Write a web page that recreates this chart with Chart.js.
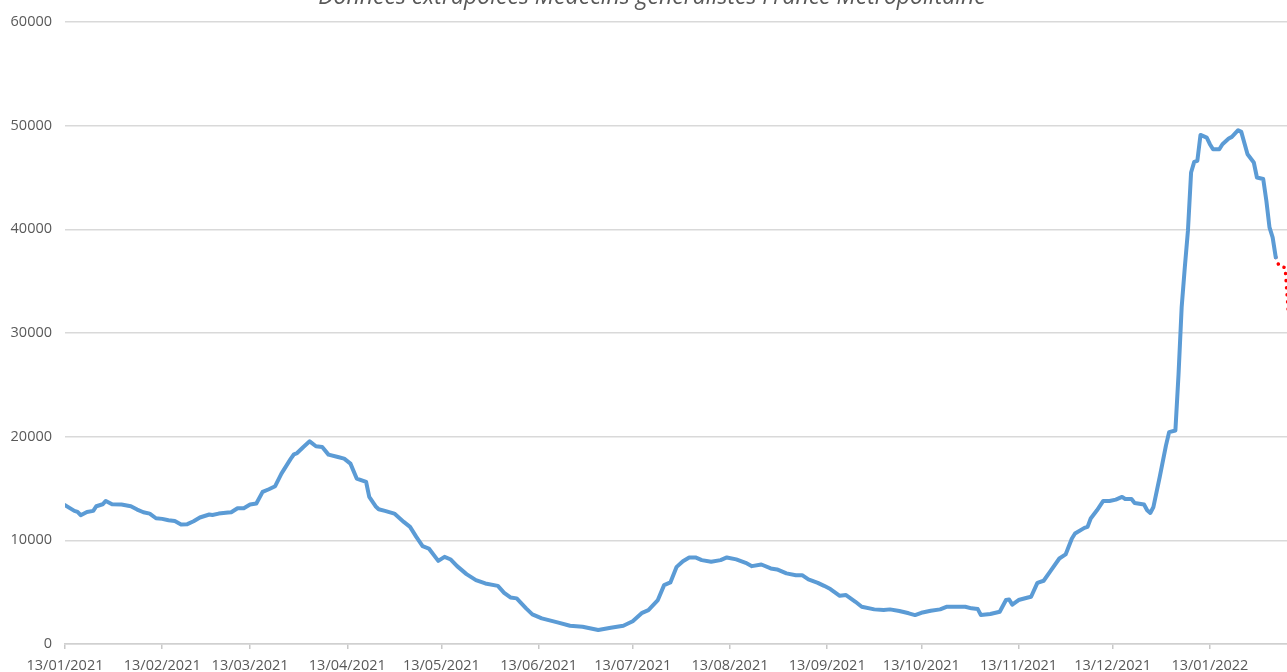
<!DOCTYPE html>
<html>
<head>
<meta charset="utf-8">
<script src="https://cdn.jsdelivr.net/npm/chart.js@4/dist/chart.umd.min.js"></script>
<style>
  html, body { margin: 0; padding: 0; background: #ffffff; overflow: hidden; width: 1287px; height: 672px; }
  #wrap { position: absolute; left: 0; top: -12px; width: 1304px; height: 686px; }
</style>
</head>
<body>
<div id="wrap"><canvas id="c" width="1304" height="686"></canvas></div>
<script>
// ---- data (days counted from 13/01/2021) ----
const titleText = "Données extrapolées Médecins généralistes France Métropolitaine";
const startDate = "2021-01-13";
const tickLabels = ["13/01/2021","13/02/2021","13/03/2021","13/04/2021","13/05/2021","13/06/2021","13/07/2021","13/08/2021","13/09/2021","13/10/2021","13/11/2021","13/12/2021","13/01/2022"];

const dayOffsets = [0,3,4,5,7,9,10,12,13,15,18,21,23,25,27,29,31,33,35,37,39,41,43,46,47,49,52,53,55,57,59,61,63,65,67,69,70,72,73,74,76,78,80,82,84,87,89,91,93,96,97,99,100,102,105,108,110,112,114,116,119,121,123,125,128,131,134,138,140,142,144,147,149,152,157,161,165,170,174,178,181,184,186,189,191,193,195,197,199,201,203,206,209,211,214,217,219,222,225,227,230,233,235,237,240,242,244,247,249,252,254,258,261,263,266,269,271,273,276,279,281,283,287,289,291,292,295,298,300,301,302,304,307,308,310,312,314,317,319,321,322,325,326,327,329,331,333,335,337,338,340,341,344,345,346,347,349,351,352,354,355,356,357,358,359,360,361,362,364,365,366,368,369,371,372,374,375,377,379,380,382,383,384,385,386];
const cases = [13400,12840,12740,12420,12740,12840,13290,13480,13800,13480,13450,13290,12970,12710,12580,12130,12070,11940,11870,11530,11560,11840,12200,12490,12450,12580,12680,12710,13100,13100,13450,13550,14670,14930,15220,16440,16920,17880,18300,18420,19000,19550,19070,19000,18270,18040,17880,17400,15960,15630,14190,13290,13000,12840,12580,11780,11300,10330,9440,9210,8020,8410,8150,7510,6740,6160,5840,5610,4940,4490,4400,3440,2860,2470,2090,1760,1670,1350,1570,1760,2200,3010,3270,4240,5680,5940,7440,7990,8350,8350,8090,7930,8090,8350,8160,7830,7510,7670,7290,7190,6810,6640,6640,6230,5900,5610,5300,4650,4720,4070,3590,3340,3270,3340,3180,2960,2790,3010,3210,3340,3590,3590,3590,3440,3370,2790,2890,3110,4240,4300,3790,4240,4490,4560,5900,6100,6960,8250,8640,10180,10660,11200,11300,12100,12900,13800,13800,13930,14190,13990,13990,13610,13450,12900,12640,13220,16110,19160,20440,20600,26000,32500,36330,39870,45480,46510,46610,49110,48850,48210,47730,47730,48210,48760,48920,49560,49400,47250,46450,45000,44850,42760,40190,39220,37300];

const forecastDays = [386,387,389,390];
const forecastValues = [37300,36500,36300,32000];

const yTicks = [0,10000,20000,30000,40000,50000,60000];

// ---- build ----
function dayOf(label) {
  const [d, m, y] = label.split("/").map(Number);
  const s = startDate.split("-").map(Number);
  return Math.round((Date.UTC(y, m - 1, d) - Date.UTC(s[0], s[1] - 1, s[2])) / 86400000);
}
const tickDays = tickLabels.map(dayOf);

const mainPts = dayOffsets.map((d, i) => ({ x: d, y: cases[i] }));
const fcPts = forecastDays.map((d, i) => ({ x: d, y: forecastValues[i] }));

const grey = "#595959";
new Chart(document.getElementById("c"), {
  type: "line",
  data: {
    datasets: [
      { data: mainPts, borderColor: "#5B9BD5", borderWidth: 4, pointRadius: 0, tension: 0, borderJoinStyle: "round", borderCapStyle: "round" },
      { data: fcPts, borderColor: "#FF0000", borderWidth: 3.5, pointRadius: 0, tension: 0, borderDash: [0.1, 7], borderCapStyle: "round" }
    ]
  },
  options: {
    responsive: false,
    animation: false,
    layout: { padding: 0 },
    plugins: {
      legend: { display: false },
      tooltip: { enabled: false },
      title: {
        display: true,
        text: titleText,
        color: grey,
        font: { family: "Open Sans", size: 23, style: "italic", weight: "normal", lineHeight: 0.8 },
        padding: { top: 0, bottom: 15.6 }
      }
    },
    scales: {
      x: {
        type: "linear",
        min: 0,
        max: 395,
        afterBuildTicks: (s) => { s.ticks = tickDays.map(v => ({ value: v })); },
        afterFit: (s) => { s.height = 30; },
        grid: { drawOnChartArea: false, drawTicks: true, tickLength: 5, color: "#c8c8c8", lineWidth: 1.5 },
        border: { display: true, color: "#d0d0d0", width: 1.5 },
        ticks: {
          autoSkip: false, maxRotation: 0, padding: 8, color: grey,
          font: { family: "Open Sans", size: 14.5 },
          callback: (v) => { const i = tickDays.indexOf(v); return i >= 0 ? tickLabels[i] : ""; }
        }
      },
      y: {
        min: 0,
        max: 60000,
        afterBuildTicks: (s) => { s.ticks = yTicks.map(v => ({ value: v })); },
        afterFit: (s) => { s.width = 65; },
        grid: { color: "#d9d9d9", lineWidth: 1.5, drawTicks: false },
        border: { display: false },
        ticks: { padding: 13, color: grey, font: { family: "Open Sans", size: 14.5 }, callback: (v) => String(v) }
      }
    }
  }
});
</script>
</body>
</html>
